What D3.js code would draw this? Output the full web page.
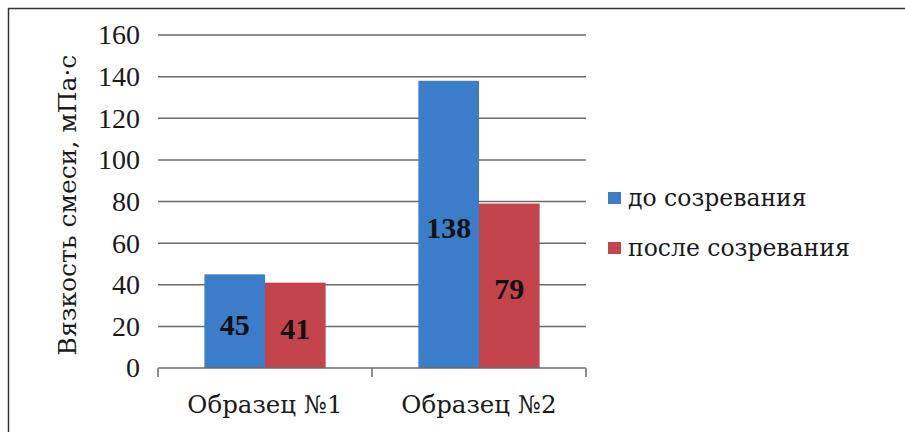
<!DOCTYPE html>
<html><head><meta charset="utf-8">
<script src="https://cdn.jsdelivr.net/npm/d3@7"></script>
<style>body{margin:0;background:#fff}svg{display:block}</style>
</head><body>
<script>
const categories = ["Образец №1", "Образец №2"];
const seriesNames = ["до созревания", "после созревания"];
const beforeValues = [45, 138];
const afterValues = [41, 79];
const yTicks = [0, 20, 40, 60, 80, 100, 120, 140, 160];
const yTitle = "Вязкость смеси, мПа·с";
const colors = ["#3b7dc8", "#c4444c"];

(function () {
const NUMFONT = "'Liberation Serif', 'Times New Roman', serif";
const CYRFONT = "'DejaVu Serif', 'Liberation Serif', serif";
const W = 905, H = 432;
const svg = d3.select("body").append("svg").attr("width", W).attr("height", H);
svg.append("rect").attr("width", W).attr("height", H).attr("fill", "#fff");
// frame (top and left edges)
svg.append("path").attr("d", "M8.5,432V8.5H905").attr("fill", "none").attr("stroke", "#333").attr("stroke-width", 1.5);

const mLeft = 158, mRight = 586, mTop = 35, mBottom = 368;
const y = d3.scaleLinear().domain([0, 160]).range([mBottom, mTop]);
const x0 = d3.scaleBand().domain(categories).range([mLeft, mRight]).padding(0);
const x1 = d3.scaleBand().domain(seriesNames).range([0, x0.bandwidth()]).paddingInner(0).paddingOuter(0.765);

// gridlines
svg.append("g").selectAll("line").data(yTicks.filter(d => d > 0)).join("line")
  .attr("x1", mLeft).attr("x2", mRight).attr("y1", d => y(d)).attr("y2", d => y(d))
  .attr("stroke", "#6a6a6a").attr("stroke-width", 1.5);

// y tick labels
const yAxis = d3.axisLeft(y).tickValues(yTicks).tickSize(0).tickPadding(18);
const gy = svg.append("g").attr("transform", `translate(${mLeft},0)`).call(yAxis)
  .attr("font-family", null);
gy.select(".domain").remove();
gy.selectAll("text").style("font-size", "28px").style("font-family", NUMFONT).attr("fill", "#1a1a1a");

const data = categories.map((c, i) => ({cat: c, vals: [beforeValues[i], afterValues[i]]}));
const groups = svg.append("g").selectAll("g").data(data).join("g")
  .attr("transform", d => `translate(${x0(d.cat)},0)`);
groups.selectAll("rect").data(d => d.vals.map((v, j) => ({v, s: seriesNames[j], j}))).join("rect")
  .attr("x", d => x1(d.s)).attr("width", x1.bandwidth())
  .attr("y", d => y(d.v)).attr("height", d => y(0) - y(d.v))
  .attr("fill", d => colors[d.j]);
groups.selectAll("text.val").data(d => d.vals.map((v, j) => ({v, s: seriesNames[j], j}))).join("text")
  .attr("class", "val")
  .attr("x", d => x1(d.s) + x1.bandwidth() / 2)
  .attr("y", d => y(d.v / 2) + 3)
  .attr("text-anchor", "middle").attr("dominant-baseline", "central")
  .style("font-size", "30px").style("font-weight", "bold").style("font-family", NUMFONT).attr("fill", "#111")
  .text(d => d.v);

// x axis
const xAxis = d3.axisBottom(x0).tickSize(0).tickPadding(28);
const gx = svg.append("g").attr("transform", `translate(0,${mBottom})`).call(xAxis)
  .attr("font-family", null);
gx.select(".domain").remove();
gx.selectAll("text").style("font-size", "24.5px").style("font-family", CYRFONT).attr("fill", "#1a1a1a");
svg.append("line").attr("x1", mLeft).attr("x2", mRight).attr("y1", mBottom).attr("y2", mBottom)
  .attr("stroke", "#6a6a6a").attr("stroke-width", 1.5);
const tickXs = categories.map(c => x0(c)).concat([x0(categories[categories.length - 1]) + x0.bandwidth()]);
svg.append("g").selectAll("line").data(tickXs).join("line")
  .attr("x1", d => d).attr("x2", d => d).attr("y1", mBottom).attr("y2", mBottom + 9)
  .attr("stroke", "#6a6a6a").attr("stroke-width", 1.5);

// y title
svg.append("text").attr("transform", `translate(76,205) rotate(-90)`)
  .attr("text-anchor", "middle").style("font-size", "25px").style("font-family", CYRFONT)
  .attr("fill", "#1a1a1a").text(yTitle);

// legend
const lg = svg.append("g").selectAll("g").data(seriesNames).join("g")
  .attr("transform", (d, i) => `translate(608,${192 + i * 50})`);
lg.append("rect").attr("width", 13).attr("height", 12).attr("fill", (d, i) => colors[i]);
lg.append("text").attr("x", 20).attr("y", 6).attr("dominant-baseline", "central")
  .style("font-size", "23.5px").style("font-family", CYRFONT).attr("fill", "#1a1a1a").text(d => d);
})();
</script>
</body></html>
